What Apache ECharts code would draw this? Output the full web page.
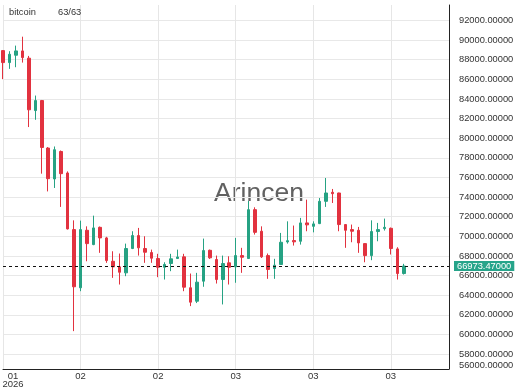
<!DOCTYPE html>
<html><head><meta charset="utf-8">
<script src="https://cdn.jsdelivr.net/npm/echarts@6/dist/echarts.min.js"></script>
<style>html,body{margin:0;padding:0;background:#fff}#c{width:520px;height:390px}</style>
</head><body><div id="c"></div>
<script>
// ---- data ----
const seriesName = 'bitcoin';
const startDate = '2026-01-25';
const slotCount = 70; // category slots on the x axis (data + empty space on the right)
const openVals  = [88930,87710,88460,88900,88160,82820,83840,79000,75850,78650,76460,70690,64760,70620,69160,70920,69840,67460,66890,66280,68760,70080,68760,68350,67740,66850,67230,67740,67910,64760,63390,65430,68580,67640,65600,67300,66890,68040,67740,72720,70520,68040,66720,67130,69430,69570,69500,71370,71020,71300,73570,74490,74420,71200,70690,70620,69260,68040,70490,70790,70820,68720,66210];
const closeVals = [87710,88560,88900,88220,82900,83840,79060,75880,78830,76390,70760,64860,70690,69260,70860,69840,67530,66890,66340,68760,70080,68830,68380,67770,66850,67130,67710,67900,64820,63290,65330,68550,67810,65600,67230,66850,68040,67870,72720,70410,67910,66620,67060,69400,69560,69440,71370,71170,71270,73570,74420,74350,71200,70620,70520,69330,68040,70490,70690,70920,68760,66210,66973.467];
const lowVals   = [86020,87070,87240,87710,81140,81880,76390,74580,74930,73000,70700,60340,64410,67460,69100,68320,67300,65770,65090,65940,68700,68040,67300,67300,65840,65600,66450,67700,64410,62890,63200,64860,67700,65190,63060,65090,65270,66280,67700,70180,67800,65670,65670,67100,69260,69060,69160,70520,70410,71250,73000,73400,70520,68830,69400,68320,67360,67570,69500,70590,68150,65600,66110];
const highVals  = [88960,88870,89440,90350,88390,84350,83900,79100,79160,78750,76620,71630,71600,71020,72110,71000,69950,68480,68250,69260,70520,70860,70010,68650,68220,67360,68220,68650,68220,66210,66280,69770,68650,68040,68040,67970,69840,68830,73600,72960,71020,68250,67710,70350,71530,71100,71880,73740,71530,73910,75950,74830,74450,71250,71200,70960,69300,71630,71370,71810,70900,68890,67200];
const lastPrice = 66973.467;
const yMin = 56480, yMax = 93580;
const watermark = 'Arincen';

// ---- build ----
const dates = [];
(function(){ const d0 = new Date(startDate + 'T00:00:00Z');
  for (let i = 0; i < slotCount; i++) dates.push(new Date(d0.getTime() + i*86400000).toISOString().slice(0,10)); })();
const ohlc = openVals.map((o,i) => [o, closeVals[i], lowVals[i], highVals[i]]);

const FONT = '"Liberation Sans", Arial, sans-serif';
const UP = '#26a283', DOWN = '#e2323f';
const showIdx = (i) => i % 12 === 0;

const chart = echarts.init(document.getElementById('c'), null, {renderer:'canvas'});
chart.setOption({
  animation: false,
  grid: {left: 3, right: 71, top: 5, bottom: 21, containLabel: false, outerBoundsMode: 'none'},
  xAxis: {
    type: 'category', data: dates, boundaryGap: false,
    axisLine: {lineStyle: {color: '#222', width: 1}},
    axisTick: {show: false},
    axisLabel: {
      interval: showIdx, margin: 3, color: '#333', fontSize: 9.5, fontFamily: FONT, lineHeight: 8.5,
      formatter: (v, i) => i === 0 ? '{f|' + v.slice(5,7) + '}\n{f|' + v.slice(0,4) + '}' : v.slice(5,7),
      rich: {f: {width: 20, align: 'center', padding: [0,0,0,20], fontSize: 9.5, fontFamily: FONT, color: '#333', lineHeight: 8.5}}
    },
    splitLine: {show: true, interval: showIdx, lineStyle: {color: '#e6e6e6', width: 1}}
  },
  yAxis: {
    type: 'value', position: 'right', min: yMin, max: yMax,
    splitNumber: 18, minInterval: 2000, maxInterval: 2000,
    axisLine: {show: true, lineStyle: {color: '#222', width: 1}},
    axisTick: {show: false},
    axisLabel: {
      margin: 10, color: '#333', fontSize: 9.3, fontFamily: FONT,
      showMaxLabel: false, showMinLabel: true,
      formatter: (v) => v === yMin ? '{lo|' + (Math.floor(v/1000)*1000).toFixed(5) + '}' : v.toFixed(5),
      rich: {lo: {padding: [0,0,8,0], fontSize: 9.3, fontFamily: FONT, color: '#333'}}
    },
    splitLine: {show: true, showMaxLine: false, lineStyle: {color: '#e8e8e8', width: 1}}
  },
  graphic: [
    {type: 'text', x: 9, y: 12.7, z: 10, style: {text: seriesName, font: '9.3px ' + FONT, fill: '#333', verticalAlign: 'middle', textVerticalAlign: 'middle'}},
    {type: 'text', x: 58, y: 12.7, z: 10, style: {text: ohlc.length + '/' + ohlc.length, font: '9.3px ' + FONT, fill: '#333', verticalAlign: 'middle', textVerticalAlign: 'middle'}},
    {type: 'text', x: 259, y: 193.4, z: 0, style: {text: watermark, font: '26.5px ' + FONT, fill: 'rgba(80,80,80,0.9)', align: 'center', textAlign: 'center', verticalAlign: 'middle', textVerticalAlign: 'middle'}}
  ],
  series: [{
    name: seriesName, type: 'candlestick', data: ohlc, clip: false, barWidth: 3,
    itemStyle: {color: UP, color0: DOWN, borderColor: UP, borderColor0: DOWN, borderWidth: 1},
    markLine: {
      symbol: ['none','none'], silent: true, animation: false,
      data: [{yAxis: lastPrice}],
      lineStyle: {color: '#111', type: [3,3], width: 1},
      label: {show: true, position: 'end', distance: 5, formatter: (p) => Number(p.value).toFixed(5),
        backgroundColor: '#26a48a', color: '#fff', padding: [1,3,0,3], fontSize: 9.3, fontFamily: FONT}
    }
  }]
});
</script></body></html>
